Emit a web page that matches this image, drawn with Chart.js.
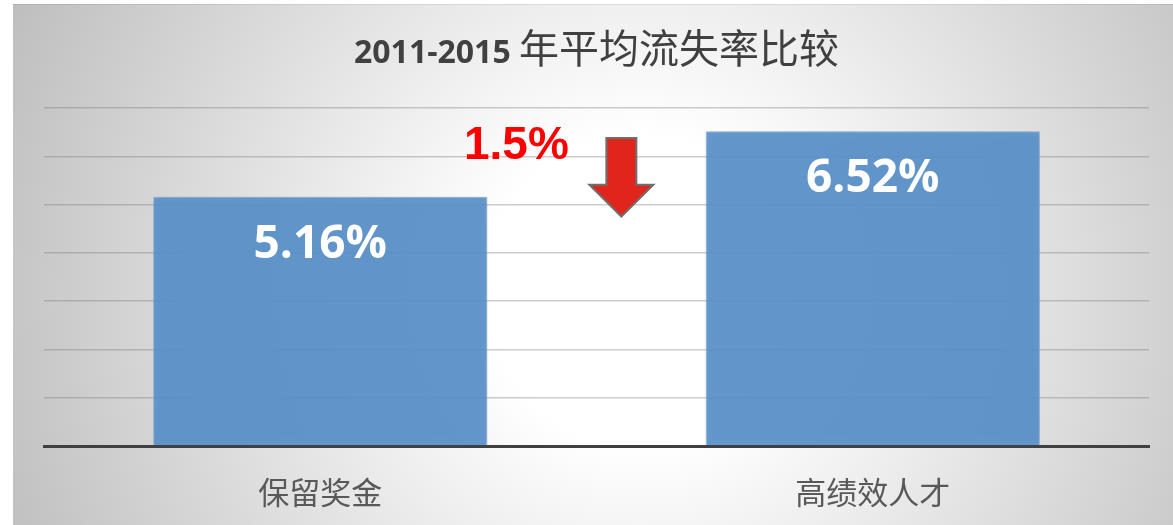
<!DOCTYPE html>
<html>
<head>
<meta charset="utf-8">
<script src="https://cdn.jsdelivr.net/npm/chart.js@4/dist/chart.umd.min.js"></script>
<style>
  body { margin: 0; background: #fff; }
  #wrap { width: 1173px; height: 525px; }
</style>
</head>
<body>
<div id="wrap"><canvas id="c" width="1173" height="525"></canvas></div>
<script>
// data
const categories = ["保留奖金", "高绩效人才"];
const rates = [5.16, 6.52];
const yTicks = [0, 1, 2, 3, 4, 5, 6, 7];
const titleNum = "2011-2015 ";
const titleText = "年平均流失率比较";
const diffLabel = "1.5%";

// where the annotation sits, in scale units (category index, value)
const diffTextAt = { x: 0.355, y: 6.2 };
const arrowAt = { x: 0.545, top: 6.38, neck: 5.41, tip: 4.75 };

const backdrop = {
  id: "backdrop",
  beforeDraw(chart) {
    const ctx = chart.ctx;
    const W = chart.width, H = chart.height;
    ctx.save();
    ctx.fillStyle = "#fff";
    ctx.fillRect(0, 0, W, H);
    const g = ctx.createRadialGradient(640, 290, 0, 640, 290, 700);
    g.addColorStop(0, "#ffffff");
    g.addColorStop(0.22, "#ffffff");
    g.addColorStop(1, "#bdbdbd");
    ctx.fillStyle = g;
    ctx.fillRect(13, 4, W - 13, H - 4);
    ctx.fillStyle = "rgba(0,0,0,0.08)";
    ctx.fillRect(13, 4, W - 13, 1);
    ctx.restore();
  }
};

const barShadow = {
  id: "barShadow",
  beforeDatasetsDraw(chart) {
    const ctx = chart.ctx;
    ctx.save();
    ctx.shadowColor = "rgba(0,0,0,0.28)";
    ctx.shadowBlur = 7;
    ctx.shadowOffsetX = 1;
  },
  afterDatasetsDraw(chart) {
    chart.ctx.restore();
  }
};

const extras = {
  id: "extras",
  afterDraw(chart) {
    const ctx = chart.ctx;
    const xs = chart.scales.x, ys = chart.scales.y;
    const area = chart.chartArea;
    ctx.save();

    // title: bold digits, regular CJK
    const numFont = "bold 32px 'Open Sans'";
    const cjkFont = "40px 'Noto Sans CJK SC'";
    ctx.font = numFont;
    const w1 = ctx.measureText(titleNum).width;
    ctx.font = cjkFont;
    const w2 = ctx.measureText(titleText).width;
    let tx = (area.left + area.right) / 2 - (w1 + w2) / 2;
    ctx.fillStyle = "#404040";
    ctx.textBaseline = "alphabetic";
    ctx.textAlign = "left";
    ctx.font = numFont;
    ctx.fillText(titleNum, tx, 63);
    ctx.font = cjkFont;
    ctx.fillText(titleText, tx + w1, 63);

    // value labels inside the bars
    const meta = chart.getDatasetMeta(0);
    ctx.font = "bold 46px 'Open Sans'";
    ctx.fillStyle = "#ffffff";
    ctx.textAlign = "center";
    ctx.textBaseline = "middle";
    meta.data.forEach((bar, i) => {
      ctx.fillText(rates[i].toFixed(2) + "%", bar.x, bar.y + 48);
    });

    // difference label
    const step = xs.getPixelForValue(1) - xs.getPixelForValue(0);
    ctx.font = "bold 46px 'Liberation Sans'";
    ctx.fillStyle = "#ff0000";
    ctx.fillText(diffLabel, xs.getPixelForValue(0) + diffTextAt.x * step, ys.getPixelForValue(diffTextAt.y));

    // down arrow
    const cx = xs.getPixelForValue(0) + arrowAt.x * step;
    const top = ys.getPixelForValue(arrowAt.top);
    const neck = ys.getPixelForValue(arrowAt.neck);
    const tip = ys.getPixelForValue(arrowAt.tip);
    ctx.beginPath();
    ctx.moveTo(cx - 15, top);
    ctx.lineTo(cx + 15, top);
    ctx.lineTo(cx + 15, neck);
    ctx.lineTo(cx + 32, neck);
    ctx.lineTo(cx, tip);
    ctx.lineTo(cx - 32, neck);
    ctx.lineTo(cx - 15, neck);
    ctx.closePath();
    ctx.fillStyle = "#e0261c";
    ctx.fill();
    ctx.lineWidth = 2;
    ctx.strokeStyle = "#6f6f6f";
    ctx.lineJoin = "miter";
    ctx.stroke();

    ctx.restore();
  }
};

new Chart(document.getElementById("c"), {
  type: "bar",
  data: {
    labels: categories,
    datasets: [{
      data: rates,
      backgroundColor: "rgba(90,147,203,0.92)",
      borderColor: "rgba(150,190,230,0.9)",
      borderWidth: 1,
      categoryPercentage: 1,
      barPercentage: 0.605
    }]
  },
  options: {
    responsive: false,
    animation: false,
    devicePixelRatio: 1,
    layout: { padding: { left: 44, right: 24, top: 108, bottom: 0 } },
    plugins: {
      legend: { display: false },
      title: { display: false },
      tooltip: { enabled: false }
    },
    scales: {
      x: {
        grid: { display: false },
        border: { display: true, color: "#404040", width: 3 },
        ticks: {
          color: "#595959",
          padding: 20,
          font: { size: 31, family: "'Noto Sans CJK SC'" }
        },
        afterFit: s => { s.height = 79; }
      },
      y: {
        min: yTicks[0],
        max: yTicks[yTicks.length - 1],
        afterBuildTicks: s => { s.ticks = yTicks.map(v => ({ value: v })); },
        ticks: { display: false },
        border: { display: false },
        grid: { color: "rgba(120,120,120,0.38)", lineWidth: 1.5, drawTicks: false },
        afterFit: s => { s.width = 0; }
      }
    }
  },
  plugins: [backdrop, barShadow, extras]
});
</script>
</body>
</html>
